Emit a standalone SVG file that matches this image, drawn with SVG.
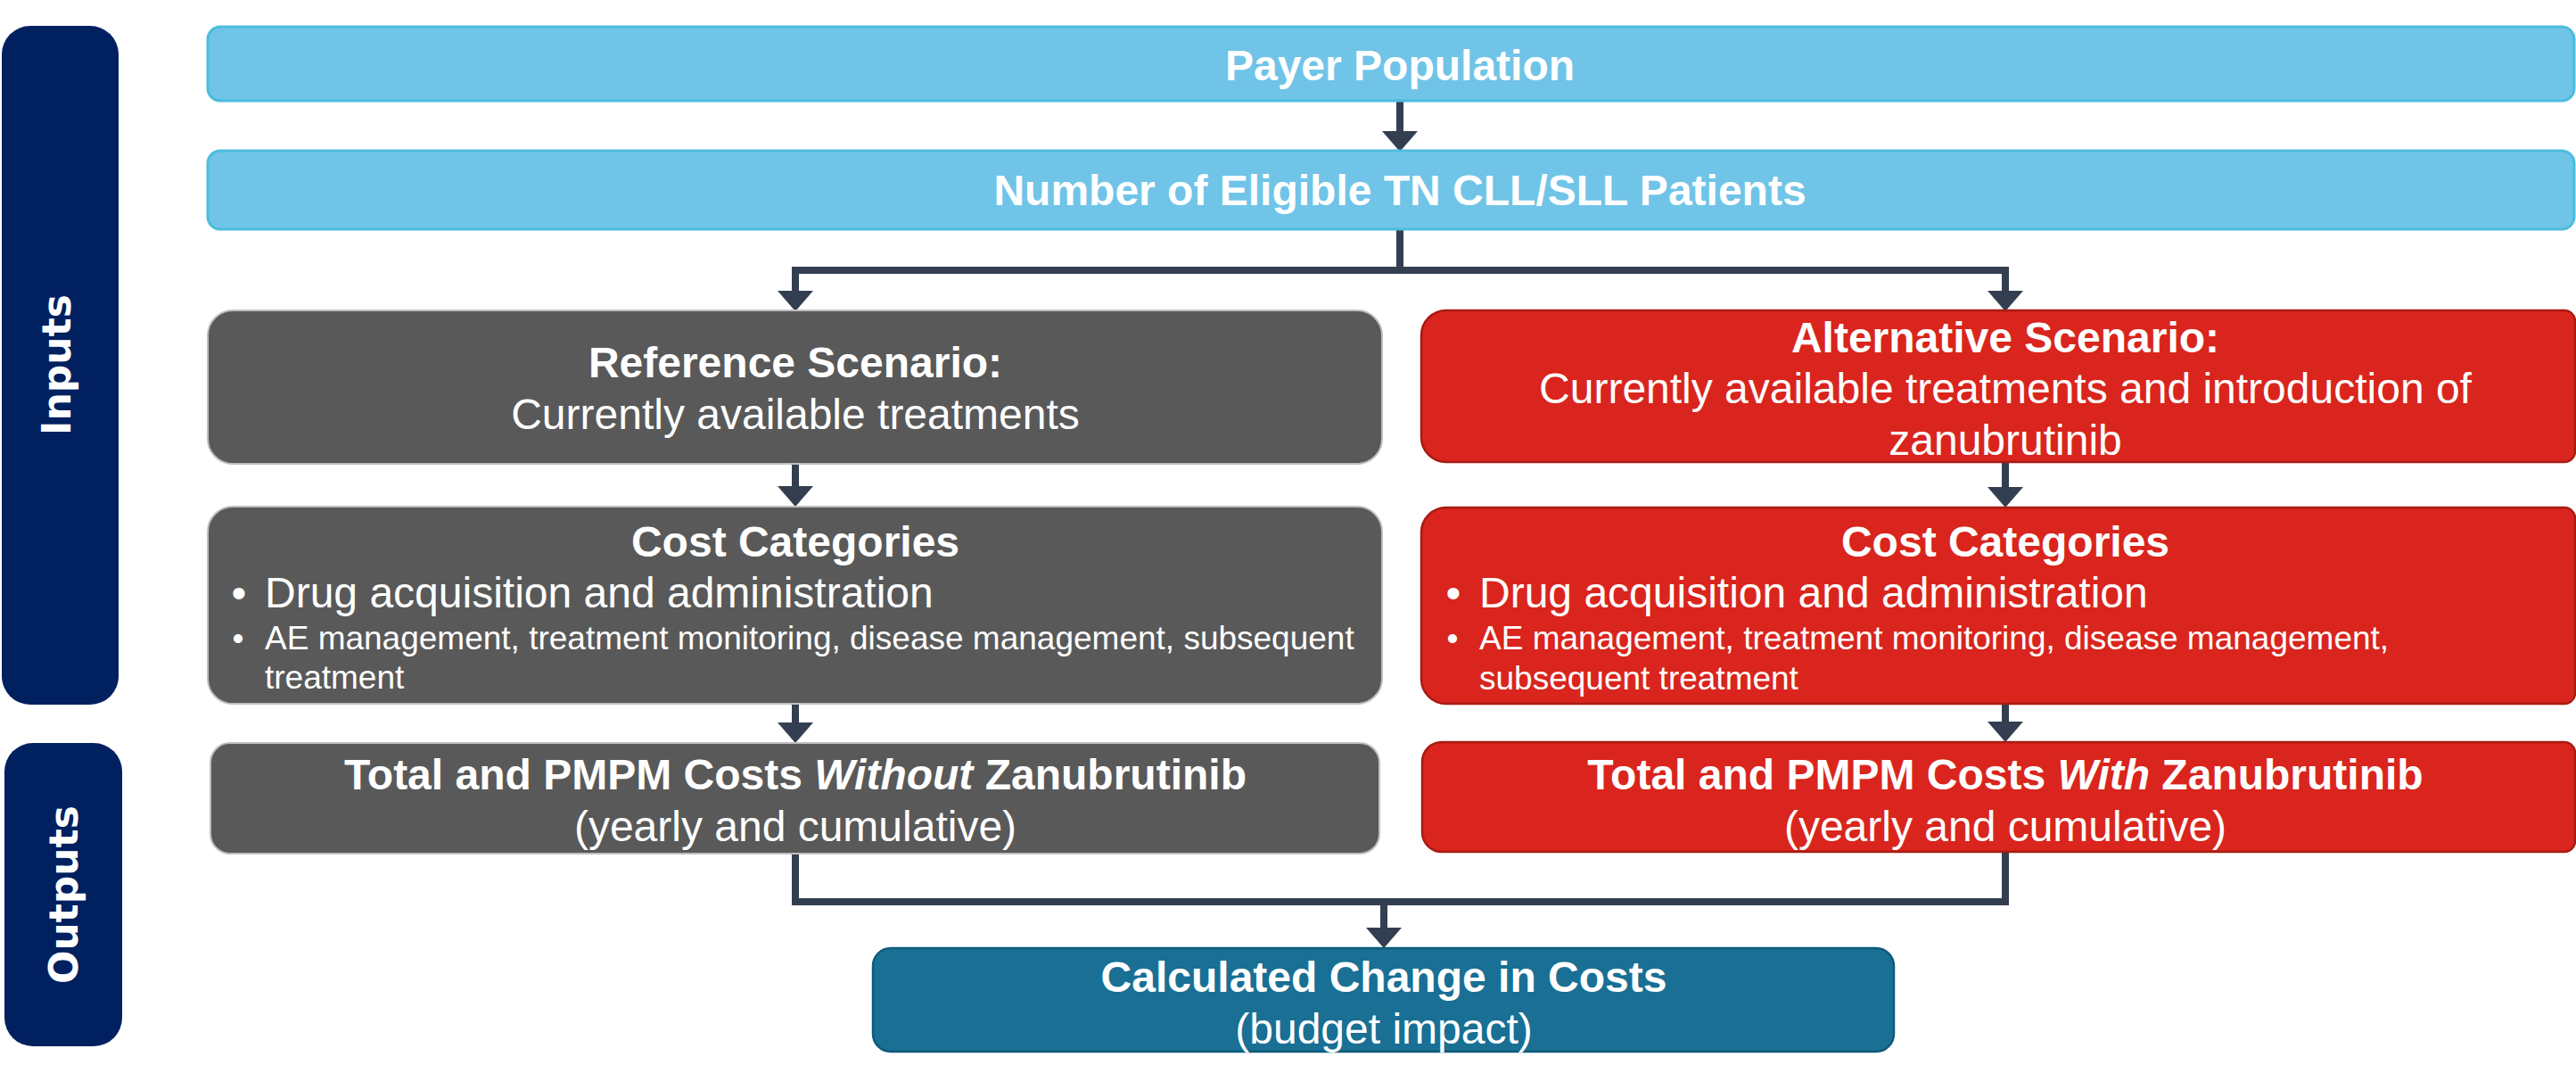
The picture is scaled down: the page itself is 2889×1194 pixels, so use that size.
<svg xmlns="http://www.w3.org/2000/svg" width="2889" height="1194" viewBox="0 0 2889 1194">
  <defs>
    <marker id="arrow" markerUnits="userSpaceOnUse" markerWidth="24" markerHeight="40" viewBox="0 0 24 40" refX="1" refY="20" orient="auto">
      <path d="M0,0 L23,20 L0,40 Z" fill="#333F50"/>
    </marker>
    <style>
      .side { fill: #002060; }
      .side-label { font-family: "DejaVu Sans", Verdana, sans-serif; font-weight: bold; font-size: 44px; fill: #FFFFFF; text-anchor: middle; }
      .blue { fill: #70C4E7; stroke: #4CBCDF; stroke-width: 3; }
      .grey { fill: #595959; stroke: #BFBFBF; stroke-width: 2; }
      .red { fill: #D9251D; stroke: #A61C14; stroke-width: 2.5; }
      .teal { fill: #196F94; stroke: #0F5A7A; stroke-width: 2.5; }
      text { font-family: "Liberation Sans", Arial, sans-serif; fill: #FFFFFF; }
      .t { font-size: 48px; text-anchor: middle; }
      .b { font-weight: bold; }
      .bi { font-weight: bold; font-style: italic; }
      .li { font-size: 48px; }
      .sm { font-size: 37px; }
      .dot { text-anchor: middle; }
      .conn { fill: none; stroke: #333F50; stroke-width: 8; stroke-linejoin: miter; }
    </style>
  </defs>

  <rect width="2889" height="1194" fill="#FFFFFF"/>

  <!-- side bands -->
  <g id="band-inputs">
    <rect class="side" x="2" y="29" width="131" height="761" rx="32"/>
    <text class="side-label" transform="translate(79,409) rotate(-90)">Inputs</text>
  </g>
  <g id="band-outputs">
    <rect class="side" x="5" y="833" width="132" height="340" rx="32"/>
    <text class="side-label" transform="translate(87,1003) rotate(-90)">Outputs</text>
  </g>

  <!-- connectors -->
  <g id="connectors">
    <path class="conn" d="M1570 113 V148" marker-end="url(#arrow)"/>
    <path class="conn" d="M1570 257 V303"/>
    <path class="conn" d="M892 326 V303 H2249 V326"/>
    <path class="conn" d="M892 303 V327" marker-end="url(#arrow)"/>
    <path class="conn" d="M2249 303 V327" marker-end="url(#arrow)"/>
    <path class="conn" d="M892 520 V546" marker-end="url(#arrow)"/>
    <path class="conn" d="M2249 518 V547" marker-end="url(#arrow)"/>
    <path class="conn" d="M892 789 V811" marker-end="url(#arrow)"/>
    <path class="conn" d="M2249 789 V810" marker-end="url(#arrow)"/>
    <path class="conn" d="M892 957 V1011 H2249 V955"/>
    <path class="conn" d="M1552 1011 V1041" marker-end="url(#arrow)"/>
  </g>

  <g id="payer-population">
    <rect class="blue" x="233" y="30" width="2654" height="83" rx="14"/>
    <text class="t b" x="1570" y="90">Payer Population</text>
  </g>

  <g id="eligible-patients">
    <rect class="blue" x="233" y="169" width="2654" height="88" rx="14"/>
    <text class="t b" x="1570" y="230">Number of Eligible TN CLL/SLL Patients</text>
  </g>

  <g id="reference-scenario">
    <rect class="grey" x="233" y="348" width="1317" height="172" rx="28"/>
    <text class="t b" x="892" y="423">Reference Scenario:</text>
    <text class="t" x="892" y="481">Currently available treatments</text>
  </g>

  <g id="alternative-scenario">
    <path class="red" d="M1622 348 H2876 A12 12 0 0 1 2888 360 V506 A12 12 0 0 1 2876 518 H1622 A28 28 0 0 1 1594 490 V376 A28 28 0 0 1 1622 348 Z"/>
    <text class="t b" x="2249" y="395">Alternative Scenario:</text>
    <text class="t" x="2249" y="452">Currently available treatments and introduction of</text>
    <text class="t" x="2249" y="510">zanubrutinib</text>
  </g>

  <g id="cost-categories-reference">
    <rect class="grey" x="233" y="568" width="1317" height="221" rx="28"/>
    <text class="t b" x="892" y="624">Cost Categories</text>
    <text class="li dot" x="268" y="681">•</text>
    <text class="li" x="297" y="681">Drug acquisition and administration</text>
    <text class="sm dot" x="267" y="728">•</text>
    <text class="sm" x="297" y="728">AE management, treatment monitoring, disease management, subsequent</text>
    <text class="sm" x="297" y="772">treatment</text>
  </g>

  <g id="cost-categories-alternative">
    <path class="red" d="M1622 569 H2876 A12 12 0 0 1 2888 581 V777 A12 12 0 0 1 2876 789 H1622 A28 28 0 0 1 1594 761 V597 A28 28 0 0 1 1622 569 Z"/>
    <text class="t b" x="2249" y="624">Cost Categories</text>
    <text class="li dot" x="1630" y="681">•</text>
    <text class="li" x="1659" y="681">Drug acquisition and administration</text>
    <text class="sm dot" x="1629" y="728">•</text>
    <text class="sm" x="1659" y="728">AE management, treatment monitoring, disease management,</text>
    <text class="sm" x="1659" y="773">subsequent treatment</text>
  </g>

  <g id="costs-without">
    <rect class="grey" x="236" y="833" width="1311" height="124" rx="22"/>
    <text class="t b" x="892" y="885">Total and PMPM Costs <tspan class="bi">Without</tspan> Zanubrutinib</text>
    <text class="t" x="892" y="943">(yearly and cumulative)</text>
  </g>

  <g id="costs-with">
    <path class="red" d="M1617 832 H2876 A12 12 0 0 1 2888 844 V943 A12 12 0 0 1 2876 955 H1617 A22 22 0 0 1 1595 933 V854 A22 22 0 0 1 1617 832 Z"/>
    <text class="t b" x="2249" y="885">Total and PMPM Costs <tspan class="bi">With</tspan> Zanubrutinib</text>
    <text class="t" x="2249" y="943">(yearly and cumulative)</text>
  </g>

  <g id="change-in-costs">
    <rect class="teal" x="979" y="1063" width="1145" height="116" rx="20"/>
    <text class="t b" x="1552" y="1112">Calculated Change in Costs</text>
    <text class="t" x="1552" y="1170">(budget impact)</text>
  </g>
</svg>
